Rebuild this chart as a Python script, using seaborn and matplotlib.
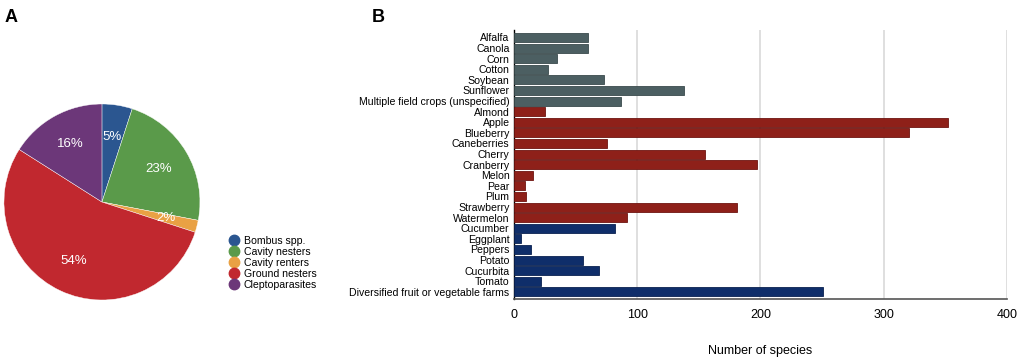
import matplotlib
matplotlib.use('Agg')
import matplotlib.pyplot as plt
import seaborn as sns
import pandas as pd

sns.set_theme(style="white")
plt.rcParams['font.family'] = ['Liberation Sans', 'DejaVu Sans']
plt.rcParams['text.color'] = 'black'

# DATA

nest_types = ['Bombus spp.', 'Cavity nesters', 'Cavity renters', 'Ground nesters', 'Cleptoparasites']
nest_share = [5, 23, 2, 54, 16]
pie_colors = ['#2b5690', '#5a9a4a', '#e9a144', '#c1282f', '#6c3779']

crops = ['Alfalfa', 'Canola', 'Corn', 'Cotton', 'Soybean', 'Sunflower',
         'Multiple field crops (unspecified)', 'Almond', 'Apple', 'Blueberry',
         'Caneberries', 'Cherry', 'Cranberry', 'Melon', 'Pear', 'Plum',
         'Strawberry', 'Watermelon', 'Cucumber', 'Eggplant', 'Peppers', 'Potato',
         'Cucurbita', 'Tomato', 'Diversified fruit or vegetable farms']
species = [60, 60, 35, 28, 73, 138, 87, 25, 352, 320, 76, 155, 197, 16, 9, 10,
           181, 92, 82, 6, 14, 56, 69, 22, 251]
crop_group = ['field'] * 7 + ['fruit'] * 11 + ['veg'] * 7
group_colors = {'field': '#4c5f62', 'fruit': '#8e2019', 'veg': '#0f2e6a'}
group_edges = {'field': '#3a4a4c', 'fruit': '#6e1410', 'veg': '#0a2150'}

df = pd.DataFrame({'crop': crops, 'species': species, 'group': crop_group})

fig = plt.figure(figsize=(10.21, 3.59), dpi=100)

# A - pie
ax1 = fig.add_axes([0.0029, 0.1616, 0.1939, 0.5515])
wedges, texts, autotexts = ax1.pie(
    nest_share, colors=pie_colors, startangle=90, counterclock=False,
    autopct='%d%%', pctdistance=0.67,
    wedgeprops={'edgecolor': 'white', 'linewidth': 0.3},
    textprops={'color': 'white', 'fontsize': 9.5})
ax1.set_xlim(-1.01, 1.01)
ax1.set_ylim(-1.01, 1.01)
ax1.set_aspect('equal')

# legend with round markers
handles = [plt.Line2D([], [], marker='o', linestyle='', markersize=7.5,
                      markerfacecolor=c, markeredgecolor=c) for c in pie_colors]
fig.legend(handles, nest_types, loc='upper left', bbox_to_anchor=(0.220, 0.355),
           frameon=False, fontsize=7.6, handletextpad=0.4, labelspacing=0.1,
           handlelength=1.0, borderaxespad=0, labelcolor='black')

# B - bars
ax2 = fig.add_axes([0.5031, 0.1663, 0.4835, 0.750])
sns.barplot(data=df, x='species', y='crop', hue='group', palette=group_colors,
            dodge=False, legend=False, width=0.85, saturation=1, ax=ax2, zorder=3)
for bar, g in zip(ax2.patches, [p for g in ['field', 'fruit', 'veg'] for p in [g] * crop_group.count(g)]):
    bar.set_edgecolor(group_edges[g])
    bar.set_linewidth(0.6)
ax2.set_xlim(0, 400)
ax2.set_ylim(24.7, -0.7)
ax2.set_xticks([0, 100, 200, 300, 400])
ax2.grid(axis='x', color='#d9d9d9', linewidth=1.2, zorder=0)
ax2.grid(axis='y', visible=False)
for s in ['top', 'right']:
    ax2.spines[s].set_visible(False)
ax2.spines['left'].set_color('black')
ax2.spines['left'].set_linewidth(1.0)
ax2.spines['bottom'].set_color('#555555')
ax2.spines['bottom'].set_linewidth(1.2)
ax2.tick_params(axis='y', length=0, pad=3, labelsize=7.6, labelcolor='black')
ax2.tick_params(axis='x', length=0, pad=7, labelsize=9, labelcolor='black')
ax2.set_ylabel('')
ax2.set_xlabel('Number of species', fontsize=9, labelpad=17, color='black')

fig.text(0.004, 0.975, 'A', fontsize=13, fontweight='bold', va='top', ha='left', color='black')
fig.text(0.364, 0.975, 'B', fontsize=13, fontweight='bold', va='top', ha='left', color='black')

fig.savefig('out.png', dpi=100)
